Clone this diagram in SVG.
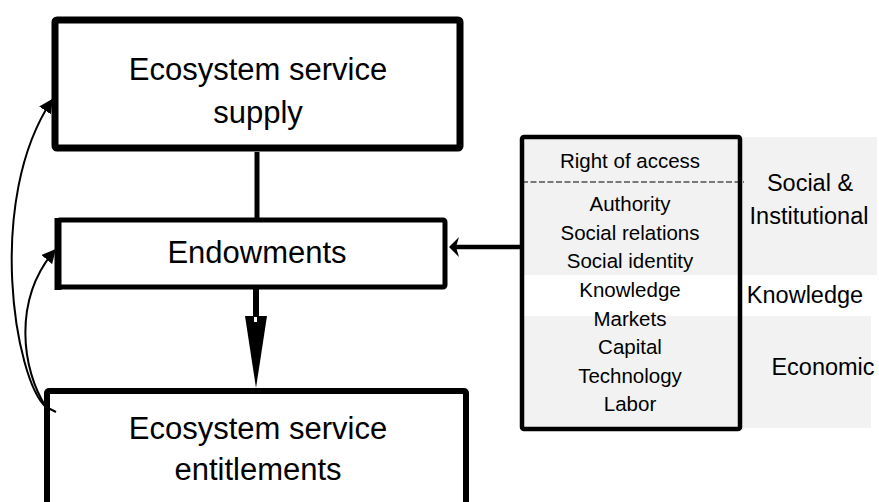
<svg xmlns="http://www.w3.org/2000/svg" width="879" height="502" viewBox="0 0 879 502">
<style>
.box{fill:#fff;stroke:#000;stroke-linejoin:round}
.big{font-family:"Liberation Sans",Arial,sans-serif;font-size:31px;fill:#000;text-anchor:middle}
.item{font-family:"Liberation Sans",Arial,sans-serif;font-size:20.5px;fill:#000;text-anchor:middle}
.lab{font-family:"Liberation Sans",Arial,sans-serif;font-size:23.5px;fill:#000;text-anchor:middle}
.curve{fill:none;stroke:#000;stroke-width:2}
</style>
<defs>
<marker id="ah" viewBox="0 0 10 10" refX="9" refY="5" markerWidth="7" markerHeight="7" orient="auto" markerUnits="strokeWidth">
<path d="M0,0 L10,5 L0,10 z" fill="#000"/>
</marker>
</defs>
<g id="bands">
<rect x="522" y="137" width="355" height="138" fill="#f2f2f2"/>
<rect x="522" y="316" width="349" height="112" fill="#f2f2f2"/>
</g>
<g id="supply">
<rect class="box" x="55" y="20" width="405" height="128" rx="2" stroke-width="7"/>
<text class="big" x="258" y="80">Ecosystem service</text>
<text class="big" x="258" y="123">supply</text>
</g>
<g id="endowments">
<rect class="box" x="58" y="220" width="387" height="67" rx="2" stroke-width="5"/>
<line x1="58" y1="218" x2="58" y2="290" stroke="#000" stroke-width="7"/>
<text class="big" x="257" y="263">Endowments</text>
</g>
<g id="entitlements">
<rect class="box" x="47" y="391" width="419" height="130" rx="2" stroke-width="6"/>
<text class="big" x="258" y="439">Ecosystem service</text>
<text class="big" x="258" y="480">entitlements</text>
</g>
<g id="factors">
<rect x="522" y="137" width="218" height="292" rx="2" fill="none" stroke="#000" stroke-width="4.5"/>
<line x1="522" y1="182" x2="744" y2="182" stroke="#000" stroke-width="1" stroke-dasharray="6,2.5"/>
<text class="item" x="630" y="168">Right of access</text>
<text class="item" x="630" y="211">Authority</text>
<text class="item" x="630" y="240">Social relations</text>
<text class="item" x="630" y="268">Social identity</text>
<text class="item" x="630" y="297">Knowledge</text>
<text class="item" x="630" y="326">Markets</text>
<text class="item" x="630" y="354">Capital</text>
<text class="item" x="630" y="383">Technology</text>
<text class="item" x="630" y="411">Labor</text>
</g>
<g id="labels">
<text class="lab" x="810" y="191">Social &amp;</text>
<text class="lab" x="809" y="224">Institutional</text>
<text class="lab" x="805" y="303">Knowledge</text>
<text class="lab" x="823" y="375">Economic</text>
</g>
<g id="connectors">
<line x1="257" y1="152" x2="257" y2="220" stroke="#000" stroke-width="5"/>
<line x1="256" y1="288" x2="256" y2="318" stroke="#000" stroke-width="6"/>
<polygon points="245,316 267,316 256,388" fill="#000"/>
<rect x="254" y="317" width="3" height="5" fill="#fff"/>
<line x1="522" y1="247" x2="455" y2="247" stroke="#000" stroke-width="4.5"/>
<polygon points="449,247 459,237 456,247 459,257" fill="#000"/>
<path class="curve" d="M56,412 L46,407 C15,380 -15,200 52,100" marker-end="url(#ah)"/>
<path class="curve" d="M46,407 C22,370 12,300 55,250" marker-end="url(#ah)"/>
</g>
</svg>
